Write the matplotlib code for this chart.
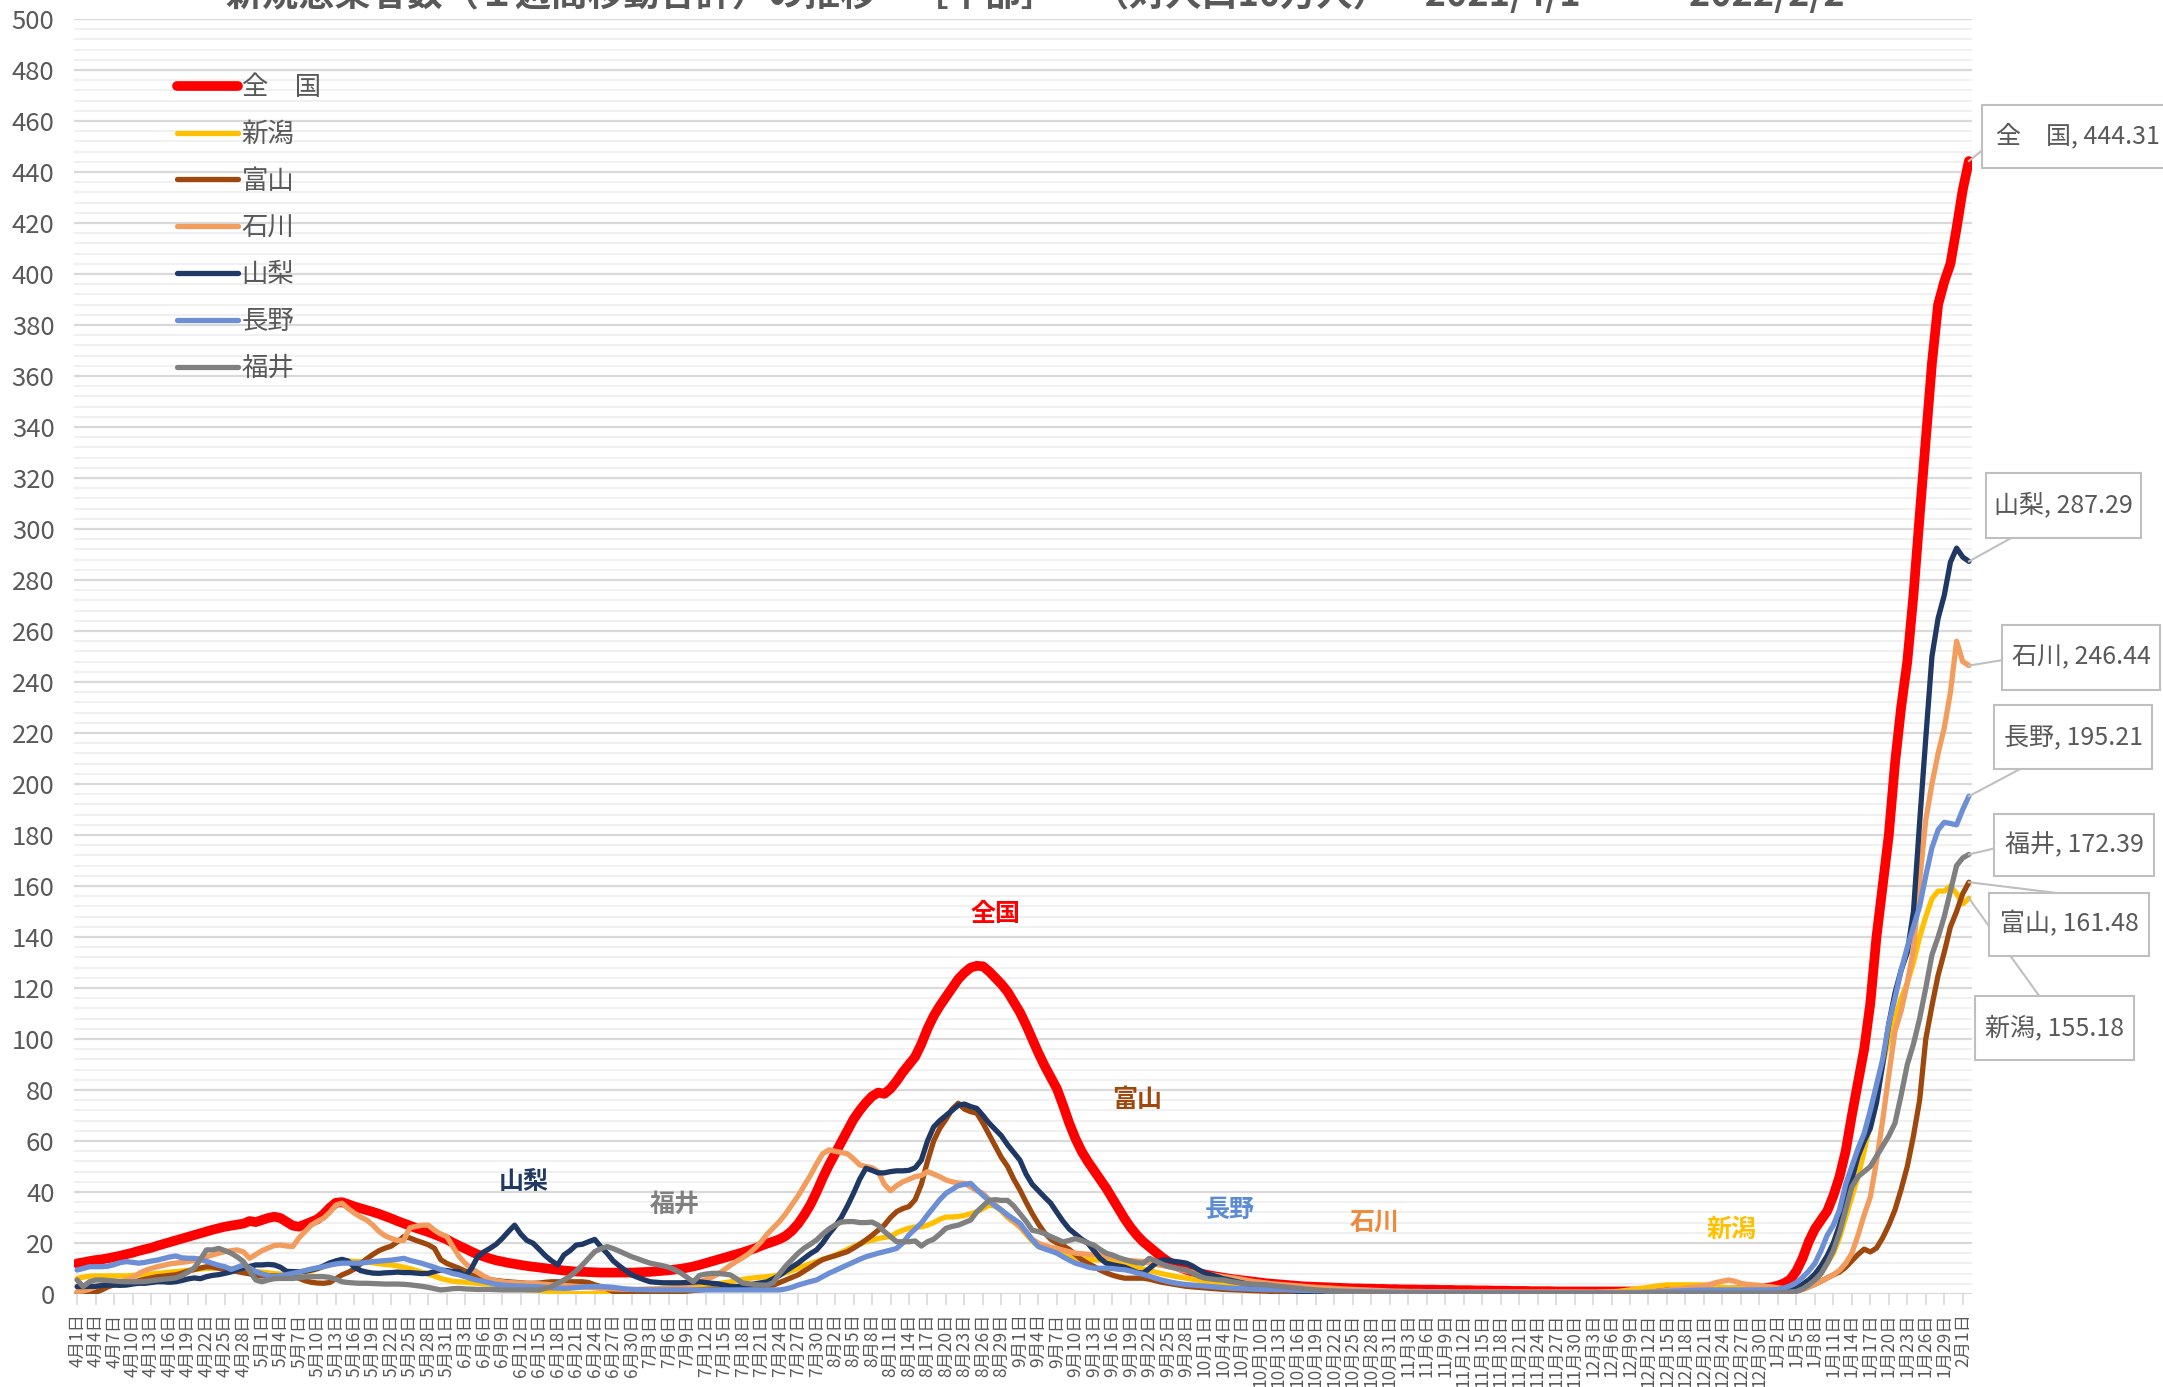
import numpy as np
import pandas as pd
import matplotlib
matplotlib.use('Agg')
import matplotlib.pyplot as plt
from matplotlib.patches import Rectangle
from matplotlib.lines import Line2D

plt.rcParams['font.family'] = ['Noto Sans CJK JP', 'DejaVu Sans']

W, H = 2163, 1387

# daily dates 2021/4/1 .. 2022/2/2
dates = pd.date_range('2021-04-01', '2022-02-02', freq='D')
date_labels = [f'{d.month}月{d.day}日' for d in dates]

# values, one line per month (Apr ... Feb)
zenkoku = [
    12.0, 12.4, 12.9, 13.3, 13.6, 14.0, 14.5, 15.0, 15.6, 16.2, 16.9, 17.5, 18.1, 18.9, 19.6, 20.3, 21.0, 21.7, 22.4, 23.1, 23.8, 24.5, 25.2, 25.8, 26.4, 26.8, 27.2, 27.6, 28.6, 28.2,
    29.0, 29.8, 30.3, 29.8, 28.3, 26.8, 26.4, 27.3, 28.3, 29.3, 31.3, 33.8, 35.8, 36.0, 35.2, 34.3, 33.6, 32.9, 32.2, 31.4, 30.5, 29.6, 28.6, 27.7, 26.8, 25.9, 25.1, 24.3, 23.4, 22.4, 21.4,
    20.1, 18.9, 17.8, 16.6, 15.5, 14.7, 13.9, 13.2, 12.7, 12.2, 11.8, 11.4, 11.0, 10.7, 10.4, 10.1, 9.8, 9.5, 9.2, 9.0, 8.8, 8.7, 8.6, 8.5, 8.4, 8.4, 8.4, 8.4, 8.4, 8.4,
    8.5, 8.6, 8.7, 8.9, 9.1, 9.3, 9.6, 9.9, 10.3, 10.8, 11.4, 12.1, 12.8, 13.5, 14.2, 14.9, 15.6, 16.3, 17.1, 17.9, 18.9, 19.8, 20.6, 21.5, 22.8, 24.8, 27.5, 31.0, 35.0, 40.0, 45.5,
    50.5, 55.0, 59.5, 64.0, 68.5, 72.0, 75.0, 77.5, 79.0, 78.5, 80.5, 83.5, 87.0, 90.0, 93.0, 98.0, 104.0, 109.0, 113.0, 116.5, 120.0, 123.5, 126.0, 128.0, 128.7, 128.5, 126.5, 124.0, 121.5, 118.5, 114.5,
    110.5, 105.5, 100.0, 94.5, 89.5, 85.0, 80.5, 74.0, 67.0, 61.0, 56.0, 52.0, 48.5, 45.0, 41.5, 37.5, 33.5, 29.5, 26.0, 23.0, 20.5, 18.5, 16.5, 14.5, 12.8, 11.5, 10.4, 9.5, 8.8, 8.2,
    7.7, 7.2, 6.8, 6.4, 6.0, 5.7, 5.4, 5.1, 4.8, 4.5, 4.2, 4.0, 3.8, 3.6, 3.4, 3.2, 3.0, 2.9, 2.8, 2.7, 2.6, 2.5, 2.4, 2.3, 2.2, 2.2, 2.1, 2.1, 2.0, 2.0, 1.9,
    1.9, 1.8, 1.8, 1.8, 1.7, 1.7, 1.7, 1.6, 1.6, 1.6, 1.5, 1.5, 1.5, 1.4, 1.4, 1.4, 1.3, 1.3, 1.3, 1.2, 1.2, 1.2, 1.1, 1.1, 1.1, 1.1, 1.0, 1.0, 1.0, 1.0,
    1.0, 1.0, 1.0, 1.0, 1.0, 1.0, 1.0, 1.0, 1.0, 1.0, 1.0, 1.0, 1.0, 1.0, 1.0, 1.0, 1.0, 1.0, 1.1, 1.1, 1.1, 1.2, 1.2, 1.3, 1.3, 1.4, 1.5, 1.6, 1.8, 2.0, 2.3,
    2.7, 3.3, 4.2, 5.7, 9.0, 14.0, 20.5, 25.5, 29.0, 32.5, 38.5, 46.0, 56.0, 70.0, 83.0, 96.0, 114.0, 140.0, 160.0, 180.0, 208.0, 230.0, 248.0, 274.0, 305.0, 335.0, 365.0, 388.0, 397.0, 404.0, 418.0,
    433.0, 444.31,
]

niigata = [
    6.1, 6.6, 7.0, 7.1, 7.1, 7.1, 7.1, 7.1, 7.1, 7.3, 7.4, 7.5, 7.8, 8.1, 8.3, 8.6, 8.8, 9.0, 9.3, 9.5, 9.8, 10.1, 10.1, 10.1, 10.1, 10.0, 9.9, 9.7, 9.3, 8.8,
    8.6, 8.3, 8.0, 7.8, 7.6, 7.5, 7.8, 8.3, 9.0, 9.8, 10.7, 11.8, 12.6, 13.0, 12.9, 12.8, 12.7, 12.5, 12.2, 11.9, 11.6, 11.4, 11.0, 10.5, 10.0, 9.2, 8.5, 7.8, 7.0, 6.1, 5.5,
    5.0, 4.8, 4.6, 4.4, 4.2, 4.0, 3.9, 3.5, 2.9, 2.5, 2.1, 1.9, 1.7, 1.6, 1.4, 1.1, 0.8, 0.5, 0.2, 0.1, 0.1, 0.1, 0.1, 0.1, 0.1, 0.1, 0.1, 0.1, 0.3, 0.7,
    1.0, 1.3, 1.6, 1.9, 2.1, 2.3, 2.5, 2.7, 2.8, 2.9, 2.9, 3.2, 3.6, 4.0, 4.4, 4.8, 5.3, 5.7, 6.1, 6.4, 6.6, 6.8, 7.1, 7.5, 8.3, 9.2, 10.1, 11.0, 11.9, 12.7, 13.6,
    14.3, 15.2, 16.3, 17.5, 18.6, 19.6, 20.5, 21.1, 21.8, 22.2, 22.5, 24.0, 25.0, 25.8, 26.3, 26.3, 27.0, 28.0, 29.3, 30.2, 30.2, 30.4, 30.8, 31.5, 32.2, 33.5, 34.8, 34.5, 32.5, 30.0, 28.2,
    26.3, 23.5, 20.8, 18.6, 17.9, 17.2, 16.6, 15.7, 14.8, 14.1, 13.8, 13.5, 13.4, 13.3, 13.0, 12.6, 12.3, 12.0, 11.2, 10.3, 9.8, 9.2, 8.6, 8.0, 7.5, 7.0, 6.6, 6.2, 5.8, 5.4,
    5.0, 4.7, 4.4, 4.1, 3.8, 3.6, 3.3, 3.0, 2.8, 2.6, 2.4, 2.2, 2.0, 1.8, 1.6, 1.5, 1.3, 1.2, 1.0, 0.9, 0.8, 0.7, 0.6, 0.5, 0.5, 0.4, 0.4, 0.3, 0.3, 0.3, 0.3,
    0.2, 0.2, 0.2, 0.2, 0.2, 0.2, 0.2, 0.2, 0.2, 0.2, 0.2, 0.2, 0.2, 0.2, 0.2, 0.2, 0.2, 0.2, 0.2, 0.2, 0.2, 0.2, 0.2, 0.2, 0.2, 0.2, 0.2, 0.2, 0.2, 0.2,
    0.2, 0.3, 0.4, 0.6, 0.8, 0.9, 1.0, 1.3, 1.6, 2.0, 2.3, 2.6, 3.0, 3.3, 3.6, 3.6, 3.6, 3.6, 3.6, 3.6, 3.6, 3.2, 2.9, 2.6, 2.4, 2.3, 2.3, 2.3, 2.3, 2.3, 2.3,
    2.3, 2.2, 2.2, 1.9, 1.8, 2.8, 4.0, 5.5, 8.0, 12.0, 16.0, 22.0, 30.0, 38.0, 46.0, 56.0, 67.0, 79.0, 90.0, 100.0, 108.0, 116.0, 122.0, 130.0, 140.0, 148.0, 155.0, 158.0, 158.0, 160.0, 157.0,
    153.0, 155.18,
]

toyama = [
    0.6, 0.6, 0.6, 0.7, 1.6, 2.8, 3.6, 4.0, 4.2, 4.6, 5.2, 5.8, 6.3, 6.8, 7.0, 7.3, 7.5, 8.2, 9.0, 9.6, 10.2, 10.7, 10.6, 10.1, 9.6, 9.2, 8.8, 8.3, 7.9, 7.3,
    7.1, 7.1, 7.1, 7.1, 7.1, 7.0, 6.2, 5.2, 4.6, 4.3, 4.2, 4.5, 6.0, 7.5, 8.5, 9.8, 11.8, 13.8, 15.5, 17.0, 18.0, 18.8, 20.5, 22.5, 22.0, 21.0, 20.2, 19.3, 17.9, 13.5, 12.0,
    11.0, 10.1, 9.0, 7.5, 6.6, 6.0, 5.6, 5.3, 5.0, 4.8, 4.6, 4.4, 4.2, 4.2, 4.3, 4.6, 4.8, 4.8, 4.8, 4.8, 4.8, 4.8, 4.5, 3.6, 2.9, 2.0, 1.0, 0.6, 0.3, 0.2,
    0.2, 0.2, 0.3, 0.3, 0.4, 0.5, 0.7, 0.9, 1.1, 1.4, 1.6, 1.8, 1.9, 2.0, 2.1, 2.2, 2.3, 2.4, 2.5, 2.7, 2.8, 2.9, 3.5, 4.5, 5.5, 6.5, 7.5, 9.0, 10.5, 12.1, 13.5,
    14.3, 15.0, 15.8, 16.6, 18.0, 19.5, 21.2, 23.0, 25.0, 27.0, 30.0, 32.3, 33.5, 34.3, 37.0, 43.0, 52.0, 60.0, 65.0, 68.5, 72.5, 74.8, 72.5, 71.5, 70.9, 67.0, 62.5, 58.0, 53.5, 50.0, 45.0,
    40.8, 36.0, 31.5, 27.5, 24.0, 21.5, 20.0, 19.0, 17.5, 15.5, 13.5, 12.0, 10.8, 9.4, 8.3, 7.4, 6.7, 6.2, 6.2, 6.2, 6.2, 5.8, 5.2, 4.6, 4.2, 3.8, 3.4, 3.0, 2.8, 2.6,
    2.4, 2.2, 2.0, 1.8, 1.7, 1.6, 1.5, 1.4, 1.3, 1.2, 1.1, 1.0, 0.9, 0.8, 0.7, 0.6, 0.5, 0.4, 0.3, 0.3, 0.3, 0.2, 0.2, 0.2, 0.2, 0.2, 0.2, 0.2, 0.2, 0.2, 0.2,
    0.2, 0.2, 0.2, 0.2, 0.2, 0.1, 0.1, 0.1, 0.1, 0.1, 0.1, 0.1, 0.1, 0.1, 0.1, 0.1, 0.1, 0.1, 0.1, 0.1, 0.1, 0.1, 0.1, 0.1, 0.1, 0.1, 0.1, 0.1, 0.1, 0.1,
    0.1, 0.1, 0.1, 0.1, 0.1, 0.1, 0.1, 0.1, 0.1, 0.1, 0.1, 0.1, 0.1, 0.1, 0.1, 0.1, 0.1, 0.1, 0.1, 0.1, 0.1, 0.1, 0.1, 0.1, 0.1, 0.1, 0.1, 0.2, 0.2, 0.2, 0.2,
    0.2, 0.3, 0.5, 0.8, 1.2, 1.8, 2.8, 3.8, 5.0, 6.3, 7.5, 8.6, 10.5, 13.0, 15.5, 17.6, 16.5, 18.0, 22.0, 27.0, 33.0, 41.0, 50.0, 62.0, 76.0, 100.0, 113.0, 125.0, 134.0, 144.0, 150.0,
    157.0, 161.48,
]

ishikawa = [
    0.9, 1.2, 1.8, 2.9, 3.6, 4.0, 4.2, 4.8, 5.5, 6.5, 8.0, 9.2, 10.0, 10.7, 11.2, 11.8, 12.1, 12.4, 12.7, 13.2, 13.9, 14.6, 15.3, 16.0, 16.6, 17.0, 17.3, 16.5, 14.0, 15.5,
    17.0, 18.0, 19.0, 19.2, 18.8, 18.6, 22.0, 24.5, 27.0, 28.5, 29.7, 32.0, 34.9, 35.6, 33.5, 31.7, 30.2, 29.0, 27.0, 24.5, 22.8, 21.8, 21.0, 21.0, 26.0, 26.5, 27.0, 27.0, 25.0, 23.5, 22.5,
    18.5, 14.7, 12.0, 10.0, 8.5, 7.0, 5.8, 5.2, 4.8, 4.5, 4.4, 4.3, 4.2, 4.1, 4.0, 3.8, 3.6, 3.5, 3.4, 3.2, 3.0, 2.8, 2.6, 2.4, 2.2, 2.1, 2.0, 1.9, 1.8, 1.8,
    1.8, 1.9, 2.0, 2.0, 2.1, 2.3, 2.5, 2.9, 3.4, 4.0, 4.8, 5.6, 6.6, 7.8, 9.5, 11.2, 12.8, 14.2, 15.8, 18.0, 20.5, 23.5, 26.0, 28.5, 31.5, 35.0, 38.5, 42.5, 46.5, 51.0, 55.0,
    56.5, 56.0, 55.5, 55.0, 53.0, 50.6, 50.0, 49.5, 48.0, 43.0, 40.5, 42.5, 44.0, 45.0, 46.0, 46.5, 48.0, 47.0, 46.0, 44.7, 44.0, 43.5, 43.4, 42.0, 40.5, 39.5, 37.0, 35.0, 32.9, 30.5, 28.5,
    26.4, 24.0, 21.5, 19.9, 19.0, 18.3, 17.9, 17.2, 16.6, 16.0, 15.8, 15.6, 15.4, 15.3, 14.8, 14.3, 13.8, 13.3, 13.1, 12.9, 12.7, 12.2, 11.6, 11.2, 10.8, 10.2, 9.5, 9.0, 8.6, 8.2,
    7.8, 7.5, 7.2, 6.8, 6.5, 6.2, 5.8, 5.3, 4.9, 4.6, 4.3, 4.0, 3.8, 3.6, 3.4, 3.2, 3.0, 2.8, 2.6, 2.5, 2.4, 2.2, 2.0, 1.9, 1.8, 1.7, 1.6, 1.5, 1.4, 1.3, 1.2,
    1.1, 1.1, 1.0, 1.0, 1.0, 0.9, 0.9, 0.9, 0.9, 0.8, 0.8, 0.8, 0.8, 0.8, 0.8, 0.8, 0.8, 0.8, 0.8, 0.8, 0.8, 0.8, 0.8, 0.8, 0.8, 0.8, 0.8, 0.8, 0.8, 0.8,
    0.8, 0.8, 0.8, 0.8, 0.8, 0.8, 0.8, 0.8, 0.8, 0.8, 0.8, 0.8, 1.0, 1.2, 1.5, 1.8, 2.0, 2.3, 2.6, 2.9, 3.2, 3.8, 4.5, 5.0, 5.5, 5.0, 4.2, 3.8, 3.6, 3.4, 3.0,
    2.8, 2.4, 2.0, 1.6, 1.5, 1.8, 2.8, 3.8, 5.0, 6.3, 7.5, 9.3, 12.0, 16.0, 23.0, 31.0, 38.0, 52.0, 68.0, 86.0, 103.0, 111.0, 122.0, 135.0, 162.0, 186.0, 200.0, 212.0, 222.0, 236.0, 256.0,
    248.0, 246.44,
]

yamanashi = [
    2.9, 2.9, 3.0, 3.0, 3.3, 3.5, 3.5, 3.4, 3.5, 3.9, 4.2, 4.2, 4.5, 4.8, 4.8, 4.6, 4.8, 5.3, 5.9, 6.3, 6.0, 6.8, 7.3, 7.6, 8.1, 8.7, 9.6, 10.1, 10.8, 11.4,
    11.4, 11.6, 11.4, 10.5, 8.9, 8.8, 8.7, 8.9, 9.4, 10.0, 11.0, 12.2, 13.0, 13.6, 12.9, 10.5, 9.2, 8.6, 8.2, 8.1, 8.3, 8.4, 8.6, 8.4, 8.4, 8.2, 8.0, 8.1, 8.8, 9.4, 9.2,
    8.8, 8.8, 7.0, 10.0, 14.6, 16.5, 17.9, 19.5, 21.8, 24.5, 27.0, 23.5, 21.0, 19.9, 17.5, 15.0, 13.0, 11.4, 15.3, 17.0, 19.2, 19.5, 20.5, 21.4, 18.5, 16.0, 13.0, 11.0, 9.2, 7.5,
    6.5, 5.6, 4.8, 4.6, 4.4, 4.4, 4.4, 4.4, 4.5, 4.7, 4.8, 4.5, 4.2, 4.0, 3.5, 3.0, 2.9, 3.2, 3.5, 4.0, 4.4, 4.8, 6.0, 7.3, 9.0, 10.6, 12.1, 14.0, 15.8, 17.3, 20.0,
    23.5, 26.5, 30.0, 34.5, 39.5, 45.0, 49.3, 48.5, 47.5, 47.5, 48.0, 48.3, 48.3, 48.5, 49.5, 52.5, 60.0, 65.5, 68.0, 70.0, 72.0, 74.0, 74.5, 73.5, 72.8, 70.0, 67.0, 64.5, 62.0, 58.5, 55.5,
    52.5, 47.0, 43.0, 40.5, 38.0, 35.6, 32.0, 28.5, 25.5, 23.5, 21.5, 20.0, 17.0, 14.0, 12.1, 11.5, 11.0, 10.5, 9.5, 8.5, 8.2, 10.0, 12.0, 13.3, 13.3, 12.8, 12.5, 12.1, 11.0, 9.5,
    8.2, 7.5, 6.8, 6.0, 5.5, 4.9, 4.4, 3.9, 3.4, 3.0, 2.6, 2.2, 1.8, 1.6, 1.4, 1.2, 1.0, 0.9, 0.8, 0.7, 0.6, 0.5, 0.5, 0.4, 0.4, 0.3, 0.3, 0.3, 0.2, 0.2, 0.2,
    0.2, 0.2, 0.2, 0.1, 0.1, 0.1, 0.1, 0.1, 0.1, 0.1, 0.1, 0.1, 0.1, 0.1, 0.1, 0.1, 0.1, 0.1, 0.1, 0.1, 0.1, 0.1, 0.1, 0.1, 0.1, 0.1, 0.1, 0.1, 0.1, 0.1,
    0.1, 0.1, 0.1, 0.1, 0.1, 0.1, 0.1, 0.1, 0.1, 0.1, 0.1, 0.1, 0.1, 0.1, 0.1, 0.1, 0.1, 0.1, 0.1, 0.1, 0.1, 0.1, 0.2, 0.2, 0.2, 0.2, 0.2, 0.2, 0.2, 0.3, 0.3,
    0.3, 0.5, 0.8, 1.3, 2.2, 3.8, 5.5, 7.8, 11.0, 15.0, 20.0, 27.0, 36.0, 45.0, 54.0, 60.0, 65.0, 75.0, 90.0, 106.0, 118.0, 127.0, 134.0, 150.0, 185.0, 218.0, 250.0, 265.0, 274.0, 287.0, 292.5,
    289.0, 287.29,
]

nagano = [
    9.4, 10.0, 10.7, 10.7, 10.7, 10.9, 11.5, 12.3, 12.7, 12.4, 12.1, 12.4, 12.9, 13.3, 13.9, 14.5, 14.9, 14.2, 14.0, 14.0, 13.6, 12.8, 12.0, 11.2, 10.7, 9.6, 10.5, 11.4, 10.2, 8.8,
    7.9, 7.2, 6.8, 7.2, 7.6, 8.1, 8.6, 9.2, 9.8, 10.3, 10.7, 11.3, 11.8, 12.1, 12.1, 12.1, 12.1, 12.4, 12.7, 12.9, 13.1, 13.3, 13.6, 14.0, 13.2, 12.6, 12.0, 11.2, 10.5, 9.6, 8.8,
    8.0, 7.5, 6.8, 6.0, 5.4, 4.9, 4.4, 3.8, 3.5, 3.3, 3.2, 3.1, 3.0, 2.9, 2.8, 2.6, 2.4, 2.3, 2.2, 2.3, 2.5, 2.7, 2.9, 2.9, 2.9, 2.8, 2.6, 2.3, 2.0, 1.8,
    1.7, 1.7, 1.6, 1.6, 1.6, 1.6, 1.6, 1.6, 1.6, 1.6, 1.6, 1.6, 1.6, 1.6, 1.6, 1.6, 1.6, 1.6, 1.6, 1.6, 1.6, 1.6, 1.6, 1.6, 2.0, 2.6, 3.5, 4.2, 4.9, 5.5, 6.8,
    8.1, 9.2, 10.3, 11.4, 12.5, 13.6, 14.6, 15.3, 16.0, 16.6, 17.2, 17.9, 20.0, 23.2, 25.5, 27.8, 31.0, 34.0, 37.0, 39.5, 41.0, 42.5, 43.0, 43.4, 41.0, 38.7, 36.5, 34.5, 32.9, 31.0, 29.4,
    27.7, 24.5, 21.3, 18.6, 17.7, 16.9, 16.0, 14.6, 13.3, 12.1, 11.4, 10.6, 10.1, 10.1, 10.1, 10.0, 9.7, 9.5, 9.0, 8.3, 7.7, 7.0, 6.2, 5.5, 4.9, 4.4, 4.0, 3.7, 3.5, 3.3,
    3.1, 2.9, 2.7, 2.5, 2.3, 2.2, 2.1, 2.0, 1.9, 1.8, 1.7, 1.7, 1.6, 1.6, 1.5, 1.5, 1.4, 1.4, 1.3, 1.3, 1.2, 1.2, 1.1, 1.1, 1.0, 1.0, 0.9, 0.9, 0.8, 0.8, 0.8,
    0.7, 0.7, 0.7, 0.7, 0.7, 0.7, 0.7, 0.7, 0.7, 0.7, 0.6, 0.6, 0.6, 0.6, 0.6, 0.6, 0.6, 0.6, 0.6, 0.6, 0.5, 0.5, 0.5, 0.5, 0.5, 0.5, 0.5, 0.5, 0.5, 0.5,
    0.5, 0.5, 0.5, 0.5, 0.5, 0.5, 0.5, 0.5, 0.5, 0.5, 0.6, 0.7, 0.8, 0.9, 1.0, 1.1, 1.2, 1.3, 1.4, 1.5, 1.5, 1.6, 1.6, 1.6, 1.6, 1.6, 1.6, 1.6, 1.6, 1.6, 1.6,
    1.6, 1.8, 2.3, 3.2, 4.5, 6.5, 9.0, 12.0, 17.0, 23.0, 27.0, 33.0, 43.0, 50.0, 57.0, 63.0, 72.0, 82.0, 92.0, 106.0, 116.0, 127.0, 136.0, 144.0, 152.0, 164.0, 175.0, 182.0, 185.0, 184.5, 184.0,
    190.0, 195.21,
]

fukui = [
    5.5, 2.9, 4.8, 5.5, 5.5, 5.3, 5.1, 4.9, 4.8, 4.8, 4.8, 4.9, 5.2, 5.5, 5.8, 6.0, 6.3, 7.2, 8.6, 10.2, 13.5, 17.3, 17.3, 17.9, 17.0, 16.0, 14.5, 12.7, 9.0, 5.5,
    4.8, 5.5, 6.0, 6.1, 6.1, 6.1, 6.4, 6.7, 6.8, 6.8, 6.8, 6.5, 5.8, 4.8, 4.5, 4.3, 4.2, 4.2, 4.1, 4.0, 3.9, 3.9, 3.9, 3.8, 3.6, 3.3, 3.0, 2.6, 2.1, 1.6, 1.8,
    2.1, 2.2, 2.0, 1.9, 1.8, 1.8, 1.8, 1.7, 1.6, 1.6, 1.6, 1.6, 1.6, 1.6, 1.6, 2.2, 2.9, 4.2, 5.5, 7.0, 9.0, 11.4, 14.0, 16.6, 17.8, 18.6, 17.8, 16.8, 15.7, 14.6,
    13.8, 12.9, 12.1, 11.6, 11.1, 10.5, 9.5, 8.2, 6.5, 4.8, 7.3, 7.8, 8.1, 8.1, 7.8, 7.5, 6.0, 4.3, 4.0, 3.7, 3.5, 3.5, 4.5, 8.0, 11.0, 13.5, 16.0, 18.0, 19.5, 21.2, 23.5,
    25.5, 27.0, 28.2, 28.4, 28.4, 28.0, 28.0, 28.2, 27.0, 24.5, 22.5, 20.5, 20.5, 20.5, 20.8, 18.8, 20.5, 21.5, 23.5, 25.8, 26.5, 27.0, 28.0, 29.0, 32.2, 34.5, 36.7, 37.0, 36.7, 36.7, 34.5,
    31.5, 28.5, 25.0, 24.5, 23.7, 22.5, 21.5, 20.4, 21.0, 21.7, 21.0, 20.0, 19.2, 17.5, 16.0, 15.3, 14.3, 13.5, 12.8, 12.3, 12.0, 14.0, 13.0, 11.8, 10.8, 10.3, 9.8, 9.4, 8.2, 7.0,
    6.2, 5.9, 5.6, 5.5, 5.0, 4.6, 4.2, 4.0, 3.8, 3.7, 3.6, 3.3, 3.0, 2.8, 2.5, 2.3, 2.0, 1.8, 1.6, 1.4, 1.2, 1.1, 1.0, 0.9, 0.8, 0.7, 0.6, 0.5, 0.5, 0.4, 0.4,
    0.4, 0.4, 0.4, 0.4, 0.4, 0.3, 0.3, 0.3, 0.3, 0.3, 0.3, 0.3, 0.3, 0.3, 0.3, 0.3, 0.3, 0.3, 0.3, 0.3, 0.3, 0.3, 0.3, 0.3, 0.3, 0.3, 0.3, 0.3, 0.3, 0.3,
    0.3, 0.3, 0.3, 0.3, 0.3, 0.3, 0.3, 0.3, 0.3, 0.3, 0.3, 0.3, 0.3, 0.3, 0.3, 0.3, 0.3, 0.3, 0.3, 0.3, 0.3, 0.3, 0.3, 0.3, 0.3, 0.3, 0.3, 0.3, 0.3, 0.3, 0.3,
    0.3, 0.4, 0.6, 0.8, 1.0, 2.0, 3.5, 5.5, 8.0, 12.0, 17.0, 24.0, 33.0, 42.0, 46.0, 48.0, 50.0, 54.0, 58.0, 62.0, 67.0, 78.0, 90.0, 98.0, 108.0, 120.0, 133.0, 140.0, 148.0, 158.0, 168.0,
    171.0, 172.39,
]

names = ['全　国', '新潟', '富山', '石川', '山梨', '長野', '福井']
values = [zenkoku, niigata, toyama, ishikawa, yamanashi, nagano, fukui]
colors = ['#FF0000', '#FFC000', '#9E480E', '#F29C5E', '#203864', '#6C8FD5', '#808080']
widths = [7.0, 3.8, 3.8, 3.8, 3.8, 3.8, 3.8]

fig = plt.figure(figsize=(W / 100, H / 100), dpi=100)
ax = fig.add_axes([74 / W, 93 / H, 1898 / W, 1275 / H])
x = np.arange(len(dates))

for name, vals, col, lw in zip(names, values, colors, widths):
    ax.plot(x, vals, color=col, lw=lw, label=name,
            solid_capstyle='round', solid_joinstyle='round')

ax.set_xlim(-0.5, len(dates) - 0.5)
ax.set_ylim(0, 500)
ax.set_yticks(range(0, 501, 20))
ax.set_yticks(range(0, 501, 4), minor=True)
ax.grid(axis='y', which='major', color='#D9D9D9', lw=1.6)
ax.grid(axis='y', which='minor', color='#EFEFEF', lw=1.3)
ax.set_axisbelow(True)
for s in ax.spines.values():
    s.set_visible(False)

ax.set_xticks(x[::3])
ax.set_xticklabels(date_labels[::3], rotation=90, fontsize=12.5, color='#595959')
ax.tick_params(axis='x', length=8, color='#D9D9D9', width=1.2, pad=6)
ax.tick_params(axis='y', which='both', length=0, pad=14, labelsize=18.5, labelcolor='#595959')

leg = ax.legend(loc='upper left', bbox_to_anchor=(177 / W, 1 - 74 / H), bbox_transform=fig.transFigure,
                frameon=False, fontsize=19, labelcolor='#595959', handlelength=2.3,
                handletextpad=0.15, labelspacing=0.75, borderpad=0, borderaxespad=0)

# in-chart series labels
tags = [('全国', '#FF0000', 149, 149), ('富山', '#9E480E', 172, 76), ('山梨', '#203864', 72.5, 44),
        ('福井', '#808080', 97, 35), ('長野', '#5B8BD5', 187, 33), ('石川', '#EE8A3D', 210.5, 28),
        ('新潟', '#FFC000', 268.5, 25)]
for txt, col, tx, ty in tags:
    ax.text(tx, ty, txt, color=col, fontsize=18, fontweight='bold', ha='center', va='center')

# data callouts at the last point (boxes in pixel coords, top-left origin)
boxes = {
    '全　国': (1982, 105, 2180, 168),
    '山梨': (1986, 473, 2141, 538),
    '石川': (2002, 625, 2160, 690),
    '長野': (1994, 705, 2152, 769),
    '福井': (1994, 814, 2154, 876),
    '富山': (1989, 893, 2149, 956),
    '新潟': (1975, 996, 2134, 1060),
}
leaders = {
    '全　国': [(1985, 148)],
    '山梨': [(2013, 537), (2050, 537)],
    '石川': [(2003, 660)],
    '長野': [(2022, 768), (2060, 768)],
    '福井': [(1996, 848)],
    '富山': [(2065, 894)],
    '新潟': [(2040, 997)],
}
for name, vals in zip(names, values):
    x0, y0, x1, y1 = boxes[name]
    px, py = ax.transData.transform((x[-1], vals[-1]))
    pts = [(px, py)] + [(lx, H - ly) for lx, ly in leaders[name]]
    fig.add_artist(Line2D([p[0] / W for p in pts], [p[1] / H for p in pts],
                          transform=fig.transFigure, color='#BFBFBF', lw=1.5, zorder=5))
    fig.add_artist(Rectangle((x0 / W, 1 - y1 / H), (x1 - x0) / W, (y1 - y0) / H,
                             transform=fig.transFigure, fc='white', ec='#BFBFBF', lw=1.5, zorder=6))
    label = f'{name}, {vals[-1]:.2f}'
    if name == '全　国':
        fig.text(1996 / W, 1 - (y0 + y1) / 2 / H, label, ha='left', va='center',
                 fontsize=18, color='#595959', zorder=7)
    else:
        fig.text((x0 + x1) / 2 / W, 1 - (y0 + y1) / 2 / H, label, ha='center', va='center',
                 fontsize=18, color='#595959', zorder=7)

# title sits mostly above the top edge, as in the source image
title = '新規感染者数（１週間移動合計）の推移　［中部］　（対人口10万人）　2021/4/1　～　2022/2/2'
fig.text(1035 / W, 1 - 6 / H, title, ha='center', va='baseline', fontsize=26,
         fontweight='bold', color='#595959')

fig.savefig('out.png', dpi=100)
